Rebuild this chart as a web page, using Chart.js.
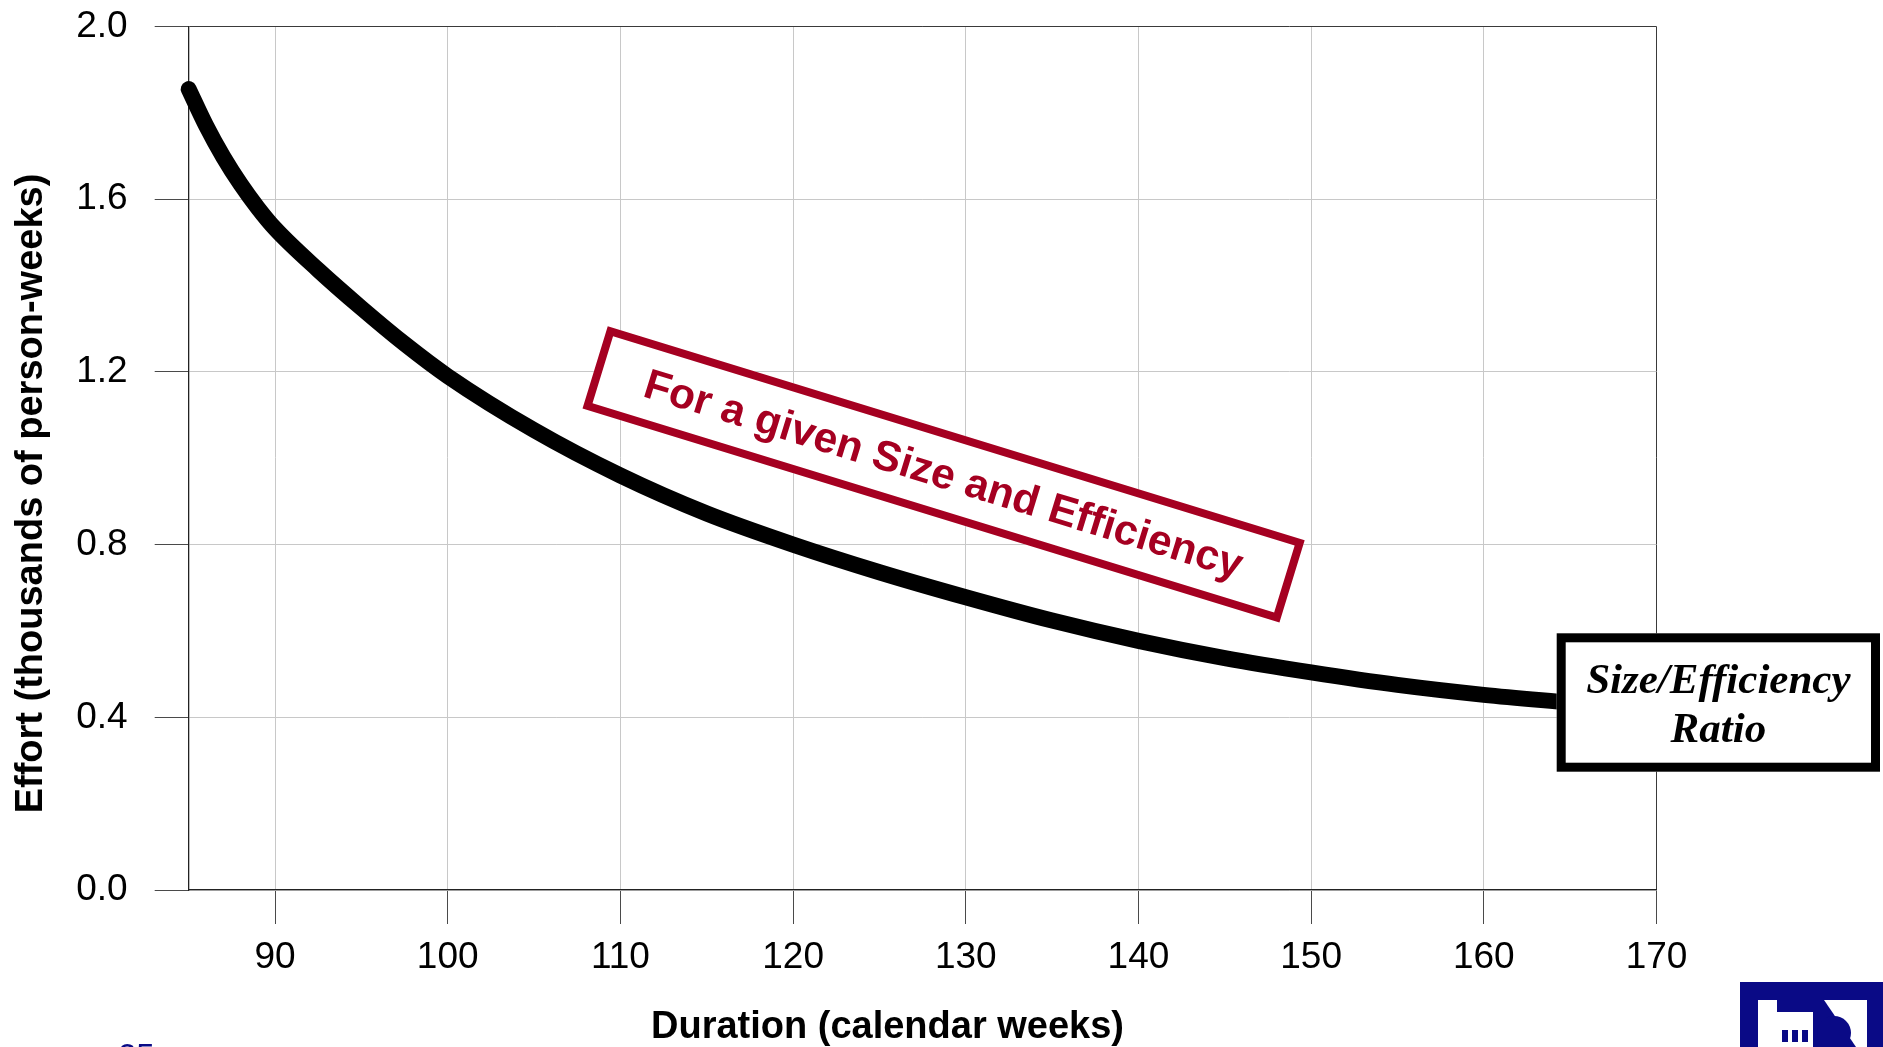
<!DOCTYPE html>
<html><head><meta charset="utf-8">
<script src="https://cdn.jsdelivr.net/npm/chart.js@4.4.1/dist/chart.umd.min.js"></script>
<style>html,body{margin:0;padding:0;background:#fff;overflow:hidden}</style>
</head><body>
<canvas id="c" width="1883" height="1047"></canvas>
<script>
// ---- data ----
const durations = [85, 86, 87, 88, 89, 90, 92.5, 95, 97.5, 100, 105, 110, 115, 120, 125, 130, 135, 140, 145, 150, 155, 160, 165];
const effort    = [1.855, 1.771, 1.698, 1.635, 1.580, 1.532, 1.436, 1.348, 1.265, 1.19, 1.065, 0.960, 0.872, 0.800, 0.736, 0.678, 0.624, 0.577, 0.537, 0.504, 0.475, 0.452, 0.434];
const xTicks = [90, 100, 110, 120, 130, 140, 150, 160, 170];
const yTicks = [0, 0.4, 0.8, 1.2, 1.6, 2.0];
const xTitle = 'Duration (calendar weeks)';
const yTitle = 'Effort (thousands of person-weeks)';
const noteRed = 'For a given Size and Efficiency';
const noteBlack = ['Size/Efficiency', 'Ratio'];
const pageNumber = '25';

const RED = '#A50021';
const NAVY = '#0A0A86';
const SANS = '"Liberation Sans", Arial, sans-serif';
const SERIF = '"Liberation Serif", "Times New Roman", serif';

const overlay = {
  id: 'overlay',
  afterDraw(chart) {
    const ctx = chart.ctx;
    // axis titles
    ctx.save();
    ctx.fillStyle = '#000';
    ctx.font = 'bold 38px ' + SANS;
    ctx.textAlign = 'center';
    ctx.textBaseline = 'alphabetic';
    ctx.fillText(xTitle, 887.5, 1038);
    ctx.translate(42.4, 493.5);
    ctx.rotate(-Math.PI / 2);
    ctx.fillText(yTitle, 0, 0);
    ctx.restore();

    // red rotated note
    ctx.save();
    ctx.translate(943.6, 474.4);
    ctx.rotate(17.06 * Math.PI / 180);
    const w = 729, h = 86, b = 8;
    ctx.fillStyle = '#fff';
    ctx.fillRect(-w / 2, -h / 2, w, h);
    ctx.strokeStyle = RED;
    ctx.lineWidth = b;
    ctx.strokeRect(-w / 2 + b / 2, -h / 2 + b / 2, w - b, h - b);
    ctx.fillStyle = RED;
    ctx.font = 'bold 42.5px ' + SANS;
    ctx.textAlign = 'center';
    ctx.textBaseline = 'middle';
    ctx.fillText(noteRed, 0, 2);
    ctx.restore();

    // black ratio box
    ctx.save();
    const bx = 1556.7, by = 633.3, bw = 323.3, bh = 138.4, bb = 9;
    ctx.fillStyle = '#fff';
    ctx.fillRect(bx, by, bw, bh);
    ctx.strokeStyle = '#000';
    ctx.lineWidth = bb;
    ctx.strokeRect(bx + bb / 2, by + bb / 2, bw - bb, bh - bb);
    ctx.fillStyle = '#000';
    ctx.font = 'italic bold 43px ' + SERIF;
    ctx.textAlign = 'center';
    ctx.textBaseline = 'alphabetic';
    ctx.fillText(noteBlack[0], bx + bw / 2, 692.7);
    ctx.fillText(noteBlack[1], bx + bw / 2, 741.7);
    ctx.restore();

    // page number (cut at the bottom edge)
    ctx.save();
    ctx.fillStyle = NAVY;
    ctx.font = '33px ' + SANS;
    ctx.textAlign = 'left';
    ctx.textBaseline = 'alphabetic';
    ctx.fillText(pageNumber, 118, 1043 + 0.716 * 33);
    ctx.restore();

    // logo (partial, bottom-right)
    ctx.save();
    ctx.fillStyle = NAVY;
    ctx.fillRect(1740, 982, 143, 65);
    ctx.fillStyle = '#fff';
    ctx.fillRect(1758, 1000, 19, 47);
    ctx.fillRect(1777, 1012, 36, 35);
    ctx.beginPath();
    ctx.moveTo(1824, 1000); ctx.lineTo(1867, 1000); ctx.lineTo(1867, 1047); ctx.lineTo(1856, 1047); ctx.closePath();
    ctx.fill();
    ctx.fillStyle = NAVY;
    ctx.beginPath();
    ctx.arc(1834, 1033, 17, 0, Math.PI * 2);
    ctx.fill();
    ctx.fillRect(1782, 1030, 6, 12);
    ctx.fillRect(1792, 1030, 6, 12);
    ctx.fillRect(1802, 1030, 6, 12);
    ctx.restore();
  }
};

const noLabelPad = s => { s.paddingTop = 0; s.paddingBottom = 0; };

new Chart(document.getElementById('c'), {
  type: 'line',
  data: {
    datasets: [{
      data: durations.map((d, i) => ({ x: d, y: effort[i] })),
      borderColor: '#000',
      borderWidth: 16,
      borderCapStyle: 'round',
      borderJoinStyle: 'round',
      cubicInterpolationMode: 'monotone',
      pointRadius: 0,
      fill: false,
      clip: false
    }]
  },
  options: {
    responsive: false,
    animation: false,
    devicePixelRatio: 1,
    layout: { padding: { top: 26.5, right: 226.5, bottom: 0, left: 0 } },
    plugins: { legend: { display: false }, tooltip: { enabled: false }, title: { display: false } },
    scales: {
      x: {
        type: 'linear',
        min: 85, max: 170,
        afterBuildTicks: s => { s.ticks = xTicks.map(v => ({ value: v })); },
        afterFit: s => { s.height = 157; },
        ticks: { font: { family: SANS, size: 37 }, color: '#000', padding: 12, maxRotation: 0, autoSkip: false },
        grid: {
          color: c => (c.tick && c.tick.value === 170) ? '#3a3a3a' : '#c8c8c8',
          tickColor: '#4a4a4a', tickLength: 34, lineWidth: 1
        },
        border: { color: '#222', width: 1.3 }
      },
      y: {
        type: 'linear',
        min: 0, max: 2,
        afterBuildTicks: s => { s.ticks = yTicks.map(v => ({ value: v })); },
        afterFit: s => { s.width = 188.7; noLabelPad(s); },
        ticks: { font: { family: SANS, size: 37 }, color: '#000', padding: 27, callback: v => Number(v).toFixed(1) },
        grid: {
          color: c => (c.tick && c.tick.value === 2) ? '#3a3a3a' : '#c8c8c8',
          tickColor: '#4a4a4a', tickLength: 34, lineWidth: 1
        },
        border: { color: '#222', width: 1.3 }
      }
    }
  },
  plugins: [overlay]
});
</script>
</body></html>
